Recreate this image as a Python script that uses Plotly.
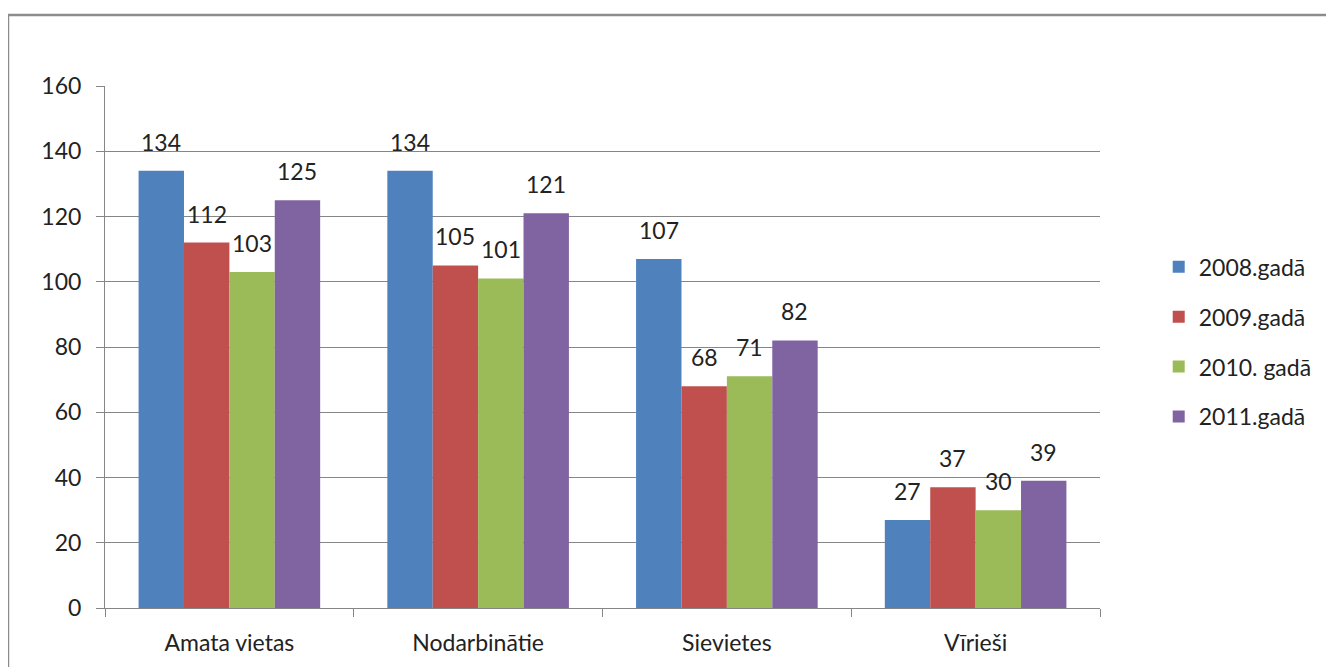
import plotly.graph_objects as go

categories = ['Amata vietas', 'Nodarbinātie', 'Sievietes', 'Vīrieši']
series_names = ['2008.gadā', '2009.gadā', '2010. gadā', '2011.gadā']
v2008 = [134, 134, 107, 27]
v2009 = [112, 105, 68, 37]
v2010 = [103, 101, 71, 30]
v2011 = [125, 121, 82, 39]
y_ticks = [0, 20, 40, 60, 80, 100, 120, 140, 160]

colors = ['#4F81BD', '#C0504D', '#9BBB59', '#8064A2']
font = 'Lato, Open Sans, sans-serif'
bargap = 0.27
all_vals = [v2008, v2009, v2010, v2011]

fig = go.Figure()
for name, vals, col in zip(series_names, all_vals, colors):
    fig.add_trace(go.Bar(
        x=categories, y=vals, name=name, legendgroup=name,
        marker=dict(color=col, line=dict(width=0)),
    ))

# data labels, raised above the bar tops like the Excel original
bw = (1 - bargap) / len(all_vals)
annotations = []
for j, vals in enumerate(all_vals):
    for i, v in enumerate(vals):
        annotations.append(dict(
            x=i + (j - 1.5) * bw, y=v, xref='x', yref='y', text=str(v),
            showarrow=False, yanchor='bottom', yshift=13,
            font=dict(size=23, color='#222222', family=font)))

fig.update_layout(
    width=1334, height=667,
    barmode='group', bargap=bargap, bargroupgap=0,
    plot_bgcolor='white', paper_bgcolor='white',
    margin=dict(l=97, r=242, t=78, b=67),
    font=dict(family=font, size=23, color='#222222'),
    legend=dict(x=1.059, y=0.51, xanchor='left', yanchor='middle',
                font=dict(size=23), tracegroupgap=17,
                itemwidth=30),
    xaxis=dict(showline=True, linecolor='#868686', linewidth=1,
               ticks='outside', tickson='boundaries', ticklen=8, tickcolor='#868686',
               tickfont=dict(size=23), showgrid=False, ticklabelstandoff=14),
    yaxis=dict(range=[0, 160], tickvals=y_ticks, showline=True, linecolor='#868686',
               linewidth=1, ticks='outside', ticklen=8, tickcolor='#868686',
               gridcolor='#868686', gridwidth=1, zeroline=False,
               tickfont=dict(size=23), ticklabelstandoff=10),
    annotations=annotations,
    shapes=[dict(type='rect', xref='paper', yref='paper',
                 x0=-0.0975, x1=1.4, y0=-0.3, y1=1.136,
                 line=dict(color='#8c8c8c', width=2.5), layer='below')],
)

fig.write_html('out.html')
